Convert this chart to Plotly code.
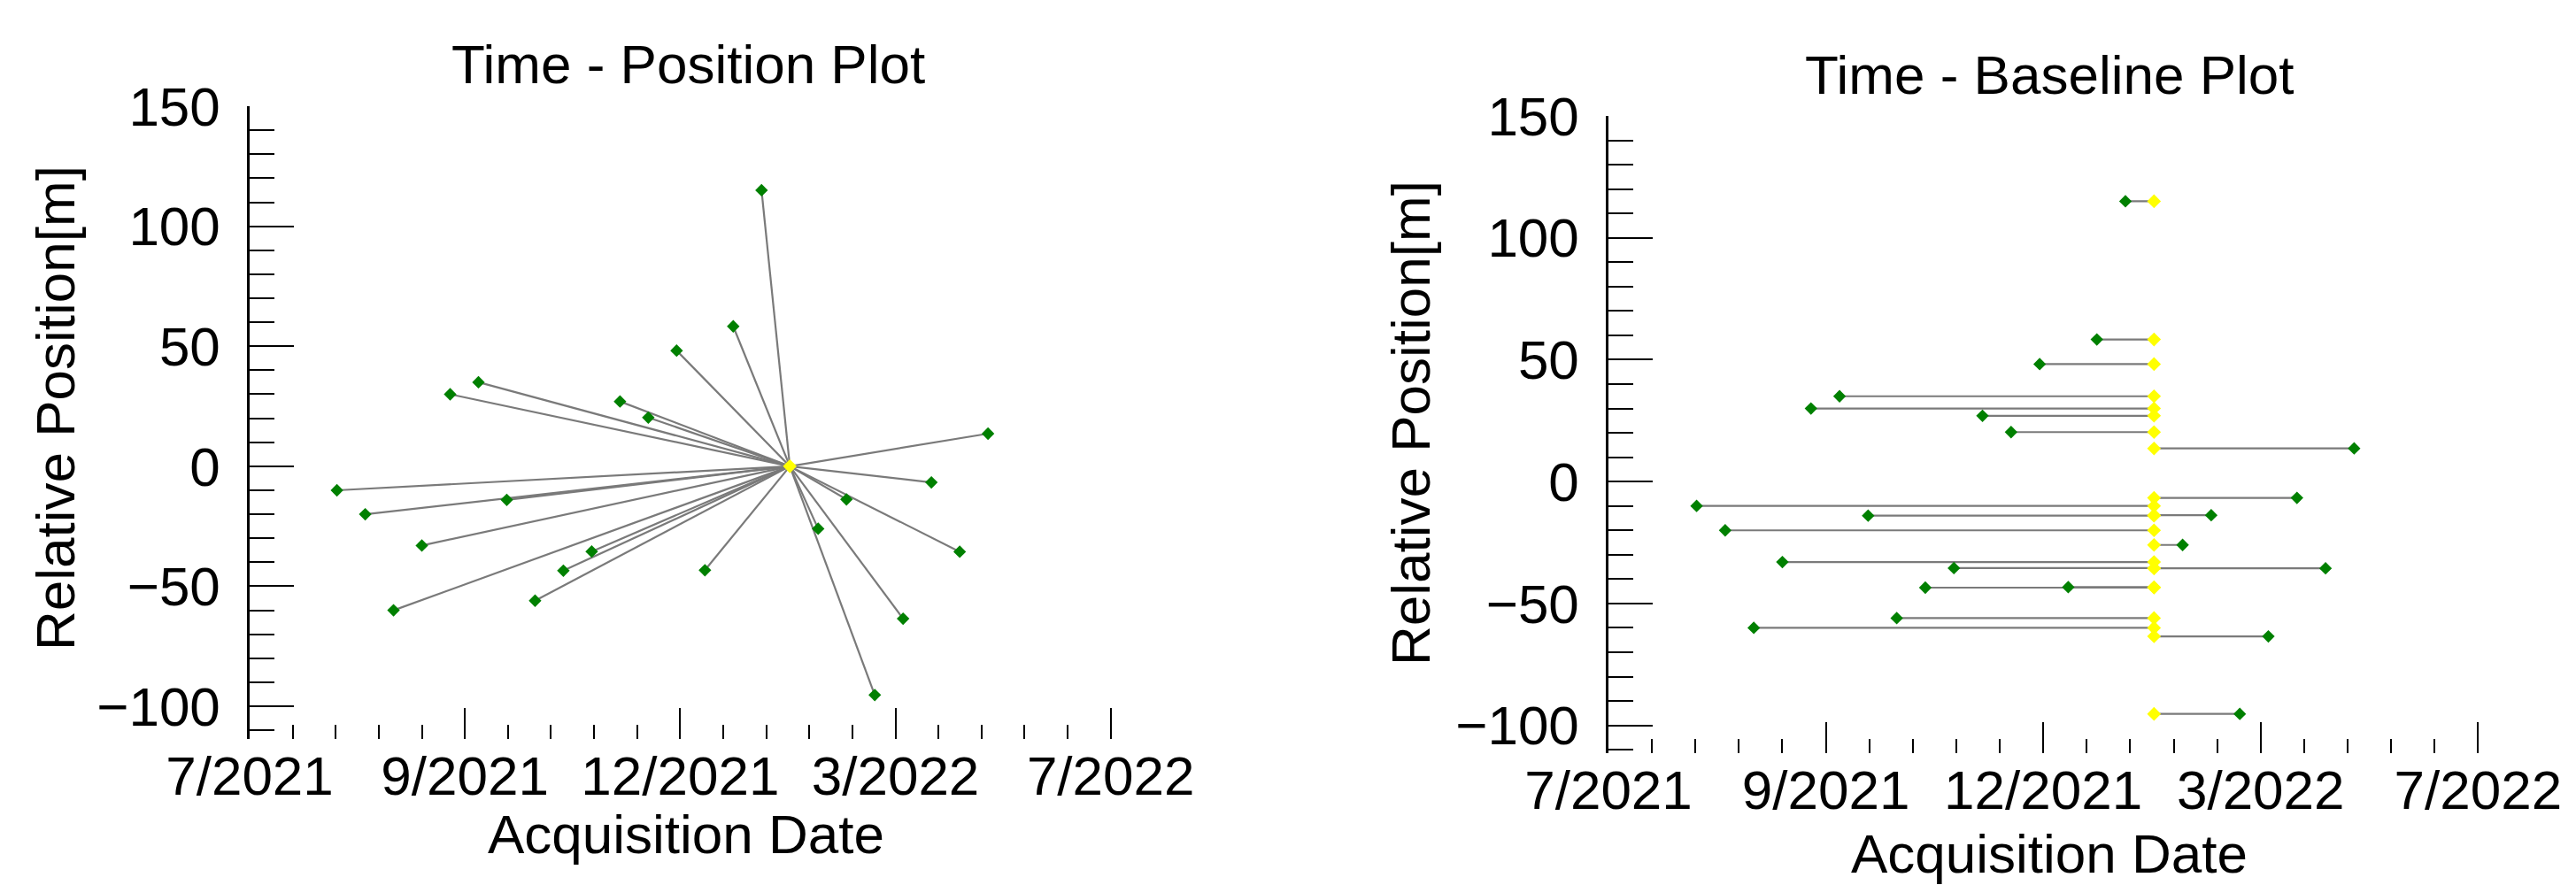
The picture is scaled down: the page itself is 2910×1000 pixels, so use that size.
import plotly.graph_objects as go

W, H = 2910, 1000

# slave acquisitions (12-day repeat) and their relative position to the master [m]
slave_dates = [
    "2021-08-07", "2021-08-19", "2021-08-31", "2021-09-12", "2021-09-24",
    "2021-10-06", "2021-10-18", "2021-10-30", "2021-11-11", "2021-11-23",
    "2021-12-05", "2021-12-17", "2021-12-29", "2022-01-10", "2022-01-22",
    "2022-02-03", "2022-02-27", "2022-03-11", "2022-03-23", "2022-04-04",
    "2022-04-16", "2022-04-28", "2022-05-10",
]
slave_positions = [
    -10, -20, -60, -33, 30,
    35, -14, -56, -43.5, -35.5,
    27, 20.3, 48.2, -43.3, 58.3,
    115, -26, -13.8, -95.3, -63.5,
    -6.7, -35.6, 13.6,
]
master_date = "2022-02-15"
master_position = 0

x_tick_dates = ["2021-07-01", "2021-09-30 06:00", "2021-12-30 12:00",
                "2022-03-31 18:00", "2022-07-01"]
x_tick_labels = ["7/2021", "9/2021", "12/2021", "3/2022", "7/2022"]

FONT = "Liberation Sans, Arial, sans-serif"
FS = 62
GREEN = "#008000"
YELLOW = "#ffff00"
LINK = "#7a7a7a"


def fx(p):
    return p / W


def fy(p):
    return 1 - p / H


fig = go.Figure()

# ---- left: time - position (star from master)
lx, ly = [], []
for d, p in zip(slave_dates, slave_positions):
    lx += [d, master_date, None]
    ly += [p, master_position, None]
fig.add_trace(go.Scatter(x=lx, y=ly, mode="lines", line=dict(color=LINK, width=2.2),
                         xaxis="x", yaxis="y", hoverinfo="skip"))
fig.add_trace(go.Scatter(x=slave_dates, y=slave_positions, mode="markers",
                         marker=dict(symbol="diamond", size=11, color=GREEN),
                         xaxis="x", yaxis="y"))
fig.add_trace(go.Scatter(x=[master_date], y=[master_position], mode="markers",
                         marker=dict(symbol="diamond", size=12, color=YELLOW),
                         xaxis="x", yaxis="y"))

# ---- right: time - baseline (horizontal links to master date)
bx, by = [], []
for d, p in zip(slave_dates, slave_positions):
    bx += [d, master_date, None]
    by += [p, p, None]
fig.add_trace(go.Scatter(x=bx, y=by, mode="lines", line=dict(color=LINK, width=2.2),
                         xaxis="x2", yaxis="y2", hoverinfo="skip"))
fig.add_trace(go.Scatter(x=slave_dates, y=slave_positions, mode="markers",
                         marker=dict(symbol="diamond", size=11, color=GREEN),
                         xaxis="x2", yaxis="y2"))
fig.add_trace(go.Scatter(x=[master_date] * len(slave_positions), y=slave_positions,
                         mode="markers",
                         marker=dict(symbol="diamond", size=12, color=YELLOW),
                         xaxis="x2", yaxis="y2"))

tickfont = dict(family=FONT, size=FS, color="black")


def x_axis(domain, anchor):
    return dict(
        domain=domain, anchor=anchor, type="date", automargin=False,
        range=["2021-07-01", "2022-07-15"],
        tickmode="array", tickvals=x_tick_dates, ticktext=x_tick_labels,
        ticks="inside", ticklen=35, tickwidth=2, tickcolor="black",
        minor=dict(ticks="inside", ticklen=16, tickwidth=2, tickcolor="black",
                   tick0="2021-07-01", dtick=18.25 * 86400000, showgrid=False),
        showline=False, showgrid=False, zeroline=False, tickfont=tickfont,
    )


def y_axis(domain, anchor, bottom):
    return dict(
        domain=domain, anchor=anchor, range=[bottom, 150], automargin=False,
        tickmode="linear", tick0=0, dtick=50,
        ticks="inside", ticklen=50, tickwidth=2, tickcolor="black",
        minor=dict(ticks="inside", ticklen=28, tickwidth=2, tickcolor="black",
                   dtick=10, showgrid=False),
        showline=True, linewidth=2.5, linecolor="black",
        showgrid=False, zeroline=False, tickfont=tickfont,
        ticklabelstandoff=18,
    )


fig.update_layout(
    width=W, height=H,
    margin=dict(l=0, r=0, t=0, b=0),
    paper_bgcolor="white", plot_bgcolor="white",
    showlegend=False,
    xaxis=x_axis([fx(274), fx(1284)], "y"),
    yaxis=y_axis([fy(827), fy(112)], "x", -113.6),
    xaxis2=x_axis([fx(1809), fx(2829)], "y2"),
    yaxis2=y_axis([fy(843), fy(123)], "x2", -111.4),
)

label = dict(family=FONT, size=FS, color="black")
notes = [
    ("Time - Position Plot", 769, 65, 0),
    ("Time - Baseline Plot", 2307, 77, 0),
    ("Acquisition Date", 767, 934, 0),
    ("Acquisition Date", 2307, 956, 0),
    ("Relative Position[m]", 54, 453, -90),
    ("Relative Position[m]", 1585, 470, -90),
]
for text, px, py, ang in notes:
    fig.add_annotation(text=text, x=fx(px), y=fy(py), xref="paper", yref="paper",
                       xanchor="center", yanchor="middle", showarrow=False,
                       textangle=ang, font=label)

fig.write_html("out.html")
